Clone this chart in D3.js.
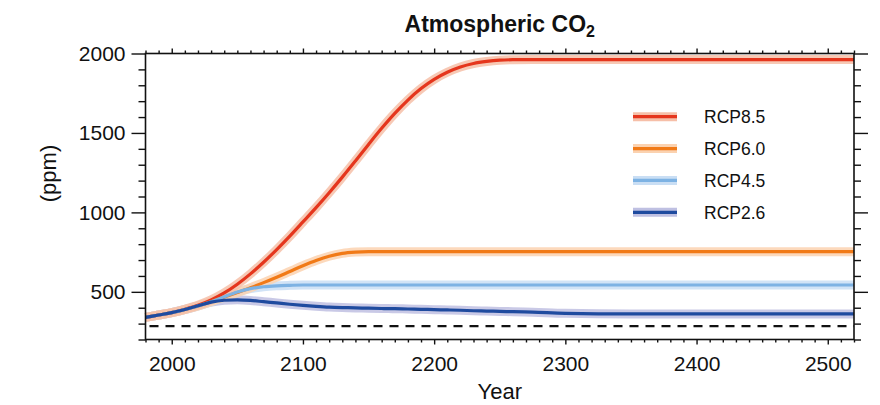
<!DOCTYPE html>
<html>
<head>
<meta charset="utf-8">
<script src="https://cdn.jsdelivr.net/npm/d3@7"></script>
<style>
  body { margin: 0; background: #fff; overflow: hidden; }
  svg { display: block; }
  svg text { font-family: "Liberation Sans", Arial, sans-serif; fill: #111; }
  .tick line { stroke: #111; stroke-width: 1.4; }
  .tick text { font-size: 21px; }
  .title { font-size: 23px; font-weight: bold; }
  .axis-label { font-size: 22px; }
  .legend text { font-size: 17.5px; }
</style>
</head>
<body>
<svg width="880" height="405"></svg>
<script>
const svg = d3.select('svg');
const width = +svg.attr('width');
const height = +svg.attr('height');

const titleText = 'Atmospheric CO';
const xAxisLabelText = 'Year';
const yAxisLabelText = '(ppm)';

// years and concentrations (ppm)
const years = [1980, 1990, 2000, 2010, 2020, 2030, 2040, 2050, 2060, 2070, 2080, 2090,
  2100, 2110, 2120, 2130, 2140, 2150, 2160, 2170, 2180, 2190, 2200, 2210,
  2220, 2230, 2240, 2250, 2260, 2275, 2300, 2350, 2400, 2450, 2500, 2520];

const rcp85 = [339, 354, 369, 390, 415, 449, 493, 548, 613, 686, 766, 851,
  940, 1030, 1124, 1222, 1324, 1428, 1529, 1623, 1707, 1779, 1837, 1882,
  1915, 1937, 1950, 1958, 1961, 1962, 1962, 1962, 1962, 1962, 1962, 1962];
const rcp60 = [339, 354, 369, 389, 411, 438, 467, 496, 526, 558, 592, 628,
  664, 697, 724, 742, 750, 753, 753, 753, 753, 753, 753, 753,
  753, 753, 753, 753, 753, 753, 753, 753, 753, 753, 753, 753];
const rcp45 = [339, 354, 369, 389, 411, 437, 469, 499, 520, 532, 538, 541,
  543, 543, 543, 543, 543, 543, 543, 543, 543, 543, 543, 543,
  543, 543, 543, 543, 543, 543, 543, 543, 543, 543, 543, 543];
const rcp26 = [339, 354, 369, 389, 412, 435, 447, 450, 446, 438, 430, 422,
  415, 409, 404, 401, 399, 397, 395, 394, 392, 390, 388, 386,
  384, 381, 379, 377, 375, 372, 365, 361, 361, 361, 361, 361];

const preIndustrial = 284;

const seriesNames = ['RCP8.5', 'RCP6.0', 'RCP4.5', 'RCP2.6'];
const seriesValues = [rcp85, rcp60, rcp45, rcp26];
const coreColors = ['#e5361d', '#f17a17', '#7db2e3', '#1f4b9f'];
const bandColors = ['#f6bfa8', '#fbd2b0', '#c9def4', '#bfc0e2'];

const xMajorTicks = [2000, 2100, 2200, 2300, 2400, 2500];
const yMajorTicks = [500, 1000, 1500, 2000];

const margin = { top: 53.5, right: 26, bottom: 65.5, left: 145.5 };
const innerWidth = width - margin.left - margin.right;
const innerHeight = height - margin.top - margin.bottom;

const xScale = d3.scaleLinear().domain([1980, 2520]).range([0, innerWidth]);
const yScale = d3.scaleLinear().domain([200, 2000]).range([innerHeight, 0]);

const g = svg.append('g')
  .attr('transform', `translate(${margin.left},${margin.top})`);

const xMinor = d3.range(1980, 2521, 10).filter(d => !xMajorTicks.includes(d));
const yMinor = d3.range(200, 2001, 100).filter(d => !yMajorTicks.includes(d));

const addAxis = (axis, transform, labelled) => {
  const a = g.append('g').attr('transform', transform).call(axis);
  a.select('.domain').remove();
  if (!labelled) a.selectAll('text').remove();
  return a;
};

// bottom / top
addAxis(d3.axisBottom(xScale).tickValues(xMajorTicks).tickSize(5).tickPadding(11.8).tickFormat(d3.format('d')),
  `translate(0,${innerHeight})`, true);
addAxis(d3.axisBottom(xScale).tickValues(xMinor).tickSize(3), `translate(0,${innerHeight})`);
addAxis(d3.axisTop(xScale).tickValues(xMajorTicks).tickSize(5), 'translate(0,0)');
addAxis(d3.axisTop(xScale).tickValues(xMinor).tickSize(3), 'translate(0,0)');

// left / right
addAxis(d3.axisLeft(yScale).tickValues(yMajorTicks).tickSize(14).tickPadding(6).tickFormat(d3.format('d')),
  'translate(0,0)', true);
addAxis(d3.axisLeft(yScale).tickValues(yMinor).tickSize(7), 'translate(0,0)');
addAxis(d3.axisRight(yScale).tickValues(yMajorTicks).tickSize(14), `translate(${innerWidth},0)`);
addAxis(d3.axisRight(yScale).tickValues(yMinor).tickSize(7), `translate(${innerWidth},0)`);

// pre-industrial reference
g.append('line')
  .attr('x1', xScale(1980)).attr('x2', xScale(2520))
  .attr('y1', yScale(preIndustrial)).attr('y2', yScale(preIndustrial))
  .attr('stroke', '#111')
  .attr('stroke-width', 2.2)
  .attr('stroke-dasharray', '9,7')
  .attr('stroke-dashoffset', -4);

const lineGenerator = d3.line()
  .x(d => xScale(d[0]))
  .y(d => yScale(d[1]))
  .curve(d3.curveMonotoneX);

const seriesData = seriesValues.map(vals => years.map((yr, i) => [yr, vals[i]]));

// pale bands first (RCP2.6 at the bottom), then the core lines (RCP2.6 on top)
[3, 2, 1, 0].forEach(i => {
  g.append('path')
    .attr('d', lineGenerator(seriesData[i]))
    .attr('fill', 'none')
    .attr('stroke', bandColors[i])
    .attr('stroke-width', 9)
    .attr('stroke-opacity', 0.85);
});
[0, 1, 2, 3].forEach(i => {
  g.append('path')
    .attr('d', lineGenerator(seriesData[i]))
    .attr('fill', 'none')
    .attr('stroke', coreColors[i])
    .attr('stroke-width', 3.2);
});

// frame
g.append('rect')
  .attr('width', innerWidth)
  .attr('height', innerHeight)
  .attr('fill', 'none')
  .attr('stroke', '#111')
  .attr('stroke-width', 1.6);

// legend
const legend = svg.append('g').attr('class', 'legend');
const legendY = d3.scalePoint().domain(seriesNames).range([116.7, 212.3]);
seriesNames.forEach((name, i) => {
  const y = legendY(name);
  legend.append('line')
    .attr('x1', 633).attr('x2', 677).attr('y1', y).attr('y2', y)
    .attr('stroke', bandColors[i]).attr('stroke-width', 9);
  legend.append('line')
    .attr('x1', 633).attr('x2', 677).attr('y1', y).attr('y2', y)
    .attr('stroke', coreColors[i]).attr('stroke-width', 3.2);
  legend.append('text')
    .attr('x', 704).attr('y', y).attr('dy', '0.36em')
    .text(name);
});

// title with subscript
const title = svg.append('text')
  .attr('class', 'title')
  .attr('x', margin.left + innerWidth / 2)
  .attr('y', 31.5)
  .attr('text-anchor', 'middle');
title.append('tspan').text(titleText);
title.append('tspan').attr('dy', 5).style('font-size', '16px').text('2');

svg.append('text')
  .attr('class', 'axis-label')
  .attr('x', margin.left + innerWidth / 2)
  .attr('y', 399)
  .attr('text-anchor', 'middle')
  .text(xAxisLabelText);

svg.append('text')
  .attr('class', 'axis-label')
  .attr('transform', `translate(56,${margin.top + innerHeight / 2 - 23}) rotate(-90)`)
  .attr('text-anchor', 'middle')
  .text(yAxisLabelText);
</script>
</body>
</html>
